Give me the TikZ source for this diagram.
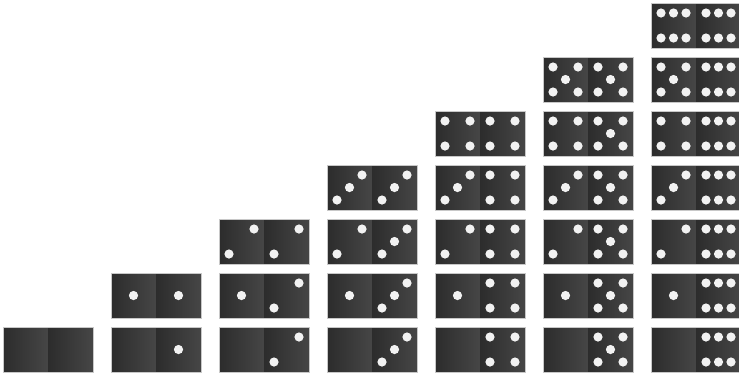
\documentclass[tikz,border=0pt]{standalone}
\definecolor{domL}{HTML}{2C2C2C}
\definecolor{domR}{HTML}{464646}
\definecolor{pipc}{HTML}{F2F2F2}
\definecolor{bordc}{HTML}{C8C8C8}
\tikzset{
  halfshade/.style={left color=domL, right color=domR},
  pipdot/.style={fill=pipc},
  domframe/.style={draw=bordc, line width=0.6pt}
}
\newcommand\dpip[2]{\fill[pipdot] (#1,#2) circle (4.6);}
\newcommand\drawhalf[3]{%
  \shade[halfshade] (#1,#2) rectangle ++(45,45);
  \begin{scope}[shift={(#1,#2)}]
    \ifcase#3\relax
    \or \dpip{22.5}{22.5}
    \or \dpip{35}{10}\dpip{10}{35}
    \or \dpip{35}{10}\dpip{22.5}{22.5}\dpip{10}{35}
    \or \dpip{10}{10}\dpip{35}{10}\dpip{10}{35}\dpip{35}{35}
    \or \dpip{10}{10}\dpip{35}{10}\dpip{22.5}{22.5}\dpip{10}{35}\dpip{35}{35}
    \or \dpip{10}{10}\dpip{22.5}{10}\dpip{35}{10}\dpip{10}{35}\dpip{22.5}{35}\dpip{35}{35}
    \fi
  \end{scope}}
\begin{document}
\begin{tikzpicture}[x=1pt,y=-1pt]
\useasboundingbox (0,0) rectangle (739,376);
\foreach \j in {0,...,6}{
  \foreach \i in {0,...,\j}{
    \pgfmathsetmacro\xx{3+108*\j}
    \pgfmathsetmacro\yy{3+54*(6-\i)}
    \pgfmathsetmacro\xm{\xx+45}
    \drawhalf{\xx}{\yy}{\i}
    \drawhalf{\xm}{\yy}{\j}
    \draw[domframe] (\xx,\yy) rectangle ++(90,45);
  }
}
\end{tikzpicture}
\end{document}
